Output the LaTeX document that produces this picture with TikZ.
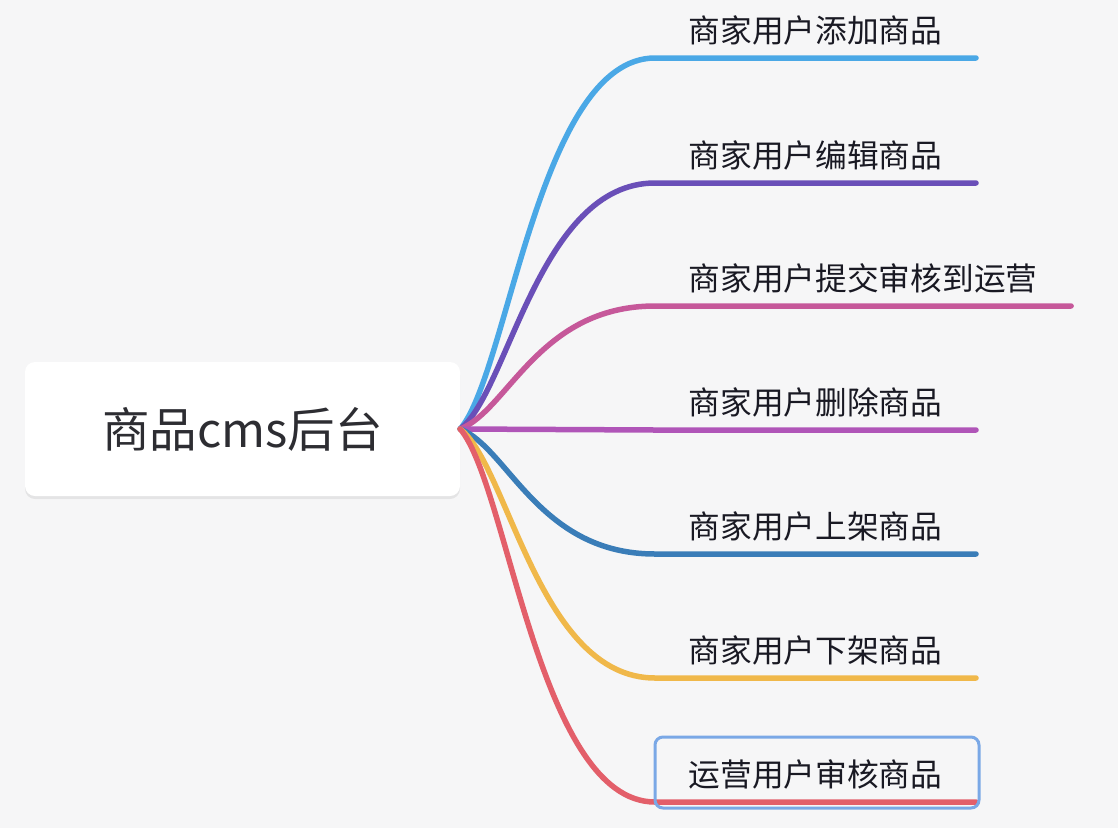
\documentclass[tikz,border=0pt]{standalone}
\usepackage{fontspec}
\setmainfont{Noto Sans CJK SC}
\usetikzlibrary{positioning, calc, shadows}

\begin{document}
\begin{tikzpicture}[
    x = 1pt, y = -1pt,
    root/.style = {rectangle, fill=white, rounded corners=10pt, minimum width=435pt, minimum height=134pt, font=\fontsize{47.5}{56}\selectfont, text=rootgray, drop shadow={shadow xshift=0pt, shadow yshift=-3pt, opacity=0.07, fill=black}},
    topic/.style = {rectangle, anchor=south west, inner xsep=33.5pt, inner ysep=15pt, text depth=0pt, font=\fontsize{31.7}{38}\selectfont, text=topicgray},
    branch/.style = {draw, line width=5.5pt, line cap=round},
    select/.style = {draw=selblue, line width=3pt, rounded corners=8pt}
]
    % Colors definition
    \definecolor{canvas}{RGB}{246, 246, 247}
    \definecolor{rootgray}{RGB}{45, 45, 50}
    \definecolor{topicgray}{RGB}{25, 25, 35}
    \definecolor{selblue}{RGB}{122, 168, 230}
    \definecolor{skyblue}{RGB}{74, 168, 230}
    \definecolor{violet}{RGB}{106, 79, 184}
    \definecolor{rose}{RGB}{198, 88, 154}
    \definecolor{orchid}{RGB}{176, 85, 184}
    \definecolor{steel}{RGB}{58, 125, 184}
    \definecolor{amber}{RGB}{240, 184, 74}
    \definecolor{coral}{RGB}{227, 95, 106}

    % Background
    \fill[canvas] (0, 0) rectangle (1118, 828);

    % Nodes
    \node (root) [root] at (242.5, 429) {商品cms后台};

    \node (add) [topic] at (655, 58) {商家用户添加商品};
    \node (edit) [topic] at (655, 183) {商家用户编辑商品};
    \node (submit) [topic] at (655, 306) {商家用户提交审核到运营};
    \node (delete) [topic] at (655, 430) {商家用户删除商品};
    \node (onshelf) [topic] at (655, 554) {商家用户上架商品};
    \node (offshelf) [topic] at (655, 678) {商家用户下架商品};
    \node (review) [topic] at (655, 802) {运营用户审核商品};

    % Connections
    \draw [branch, skyblue] (root.east) .. controls +(48, -56) and +(-116, 0) .. (add.south west) -- (add.south east);
    \draw [branch, violet] (root.east) .. controls +(48, -37) and +(-116, 0) .. (edit.south west) -- (edit.south east);
    \draw [branch, rose] (root.east) .. controls +(48, -19) and +(-116, 0) .. (submit.south west) -- (submit.south east);
    \draw [branch, orchid] (root.east) -- (delete.south west) -- (delete.south east);
    \draw [branch, steel] (root.east) .. controls +(48, 19) and +(-116, 0) .. (onshelf.south west) -- (onshelf.south east);
    \draw [branch, amber] (root.east) .. controls +(48, 37) and +(-116, 0) .. (offshelf.south west) -- (offshelf.south east);
    \draw [branch, coral] (root.east) .. controls +(48, 56) and +(-116, 0) .. (review.south west) -- (review.south east);

    % Selection frame
    \draw [select] ([yshift=-6pt]review.south west) rectangle ([xshift=3pt, yshift=65pt]review.south east);
\end{tikzpicture}
\end{document}
